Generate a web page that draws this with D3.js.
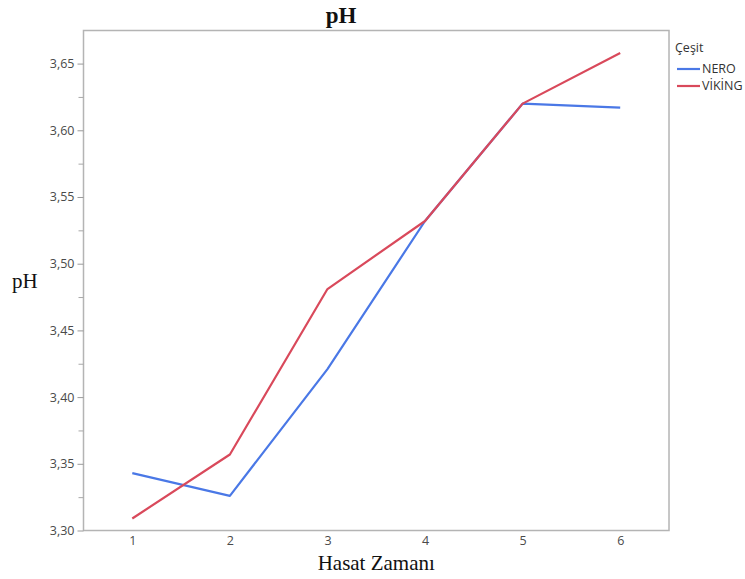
<!DOCTYPE html>
<html>
<head>
<meta charset="utf-8">
<script src="https://cdn.jsdelivr.net/npm/d3@7"></script>
<style>
  html, body { margin: 0; padding: 0; background: #fff; }
  svg { display: block; }
</style>
</head>
<body>
<svg id="chart" width="745" height="579"></svg>
<script>
// Harvest times (x) and mean pH per cultivar
const harvestTimes = [1, 2, 3, 4, 5, 6];
const neroPH   = [3.343, 3.326, 3.421, 3.532, 3.620, 3.617];
const vikingPH = [3.309, 3.357, 3.481, 3.532, 3.620, 3.658];
const seriesNames = ["NERO", "VİKİNG"];
const seriesColors = ["#4a78e6", "#d9495b"];
const yMajorTicks = [3.30, 3.35, 3.40, 3.45, 3.50, 3.55, 3.60, 3.65];
const yMinorTicks = [3.325, 3.375, 3.425, 3.475, 3.525, 3.575, 3.625];

const series = [
  { name: seriesNames[0], color: seriesColors[0], values: neroPH },
  { name: seriesNames[1], color: seriesColors[1], values: vikingPH }
];

const svg = d3.select("#chart");
const plot = { left: 83.5, right: 669, top: 30.5, bottom: 530.5 };

const x = d3.scaleLinear().domain([0.5, 6.5]).range([plot.left, plot.right]);
const y = d3.scaleLinear().domain([3.30, 3.6748]).range([plot.bottom, plot.top]);

const tickFont = "'Open Sans', 'Noto Sans', sans-serif";

// Frame around the plotting area
svg.append("rect")
  .attr("x", plot.left).attr("y", plot.top)
  .attr("width", plot.right - plot.left).attr("height", plot.bottom - plot.top)
  .attr("fill", "none").attr("stroke", "#b4b4b4").attr("stroke-width", 1.5);

// Y axis (major labelled ticks + minor ticks)
const yAxis = svg.append("g").attr("transform", `translate(${plot.left},0)`)
  .call(d3.axisLeft(y).tickValues(yMajorTicks).tickSize(6).tickPadding(3)
    .tickFormat(d => d3.format(".2f")(d).replace(".", ",")));
yAxis.select(".domain").remove();
yAxis.selectAll(".tick line").attr("stroke", "#9a9a9a");
yAxis.selectAll(".tick text").attr("fill", "#4a4a4a")
  .style("font-family", tickFont).style("font-size", "12.5px");

const yMinor = svg.append("g").attr("transform", `translate(${plot.left},0)`)
  .call(d3.axisLeft(y).tickValues(yMinorTicks).tickSize(5).tickFormat(""));
yMinor.select(".domain").remove();
yMinor.selectAll(".tick line").attr("stroke", "#a8a8a8");

// X axis
const xAxis = svg.append("g").attr("transform", `translate(0,${plot.bottom})`)
  .call(d3.axisBottom(x).tickValues(harvestTimes).tickSize(0).tickPadding(6)
    .tickFormat(d3.format("d")));
xAxis.select(".domain").remove();
xAxis.selectAll(".tick text").attr("fill", "#4a4a4a")
  .style("font-family", tickFont).style("font-size", "12.5px");

// Lines
const line = d3.line()
  .x((d, i) => x(harvestTimes[i]))
  .y(d => y(d));

svg.append("g").selectAll("path")
  .data(series)
  .join("path")
  .attr("d", d => line(d.values))
  .attr("fill", "none")
  .attr("stroke", d => d.color)
  .attr("stroke-width", 2.2)
  .attr("stroke-linejoin", "round");

// Titles
svg.append("text")
  .attr("x", 341).attr("y", 23)
  .attr("text-anchor", "middle")
  .style("font-family", "'Liberation Serif', 'Times New Roman', serif")
  .style("font-weight", "bold").style("font-size", "23px")
  .attr("fill", "#111")
  .text("pH");

svg.append("text")
  .attr("x", (plot.left + plot.right) / 2).attr("y", 570)
  .attr("text-anchor", "middle")
  .style("font-family", "'Liberation Serif', 'Times New Roman', serif")
  .style("font-size", "21px")
  .attr("fill", "#111")
  .text("Hasat Zamanı");

svg.append("text")
  .attr("x", 12).attr("y", 288)
  .style("font-family", "'Liberation Serif', 'Times New Roman', serif")
  .style("font-size", "21px")
  .attr("fill", "#111")
  .text("pH");

// Legend
const legend = svg.append("g").attr("transform", "translate(675,0)");
legend.append("text")
  .attr("x", 0).attr("y", 52)
  .style("font-family", tickFont).style("font-size", "12.5px")
  .attr("fill", "#333")
  .text("Çeşit");

const items = legend.selectAll("g.item")
  .data(series)
  .join("g")
  .attr("class", "item")
  .attr("transform", (d, i) => `translate(0,${69 + i * 17})`);
items.append("line")
  .attr("x1", 2).attr("x2", 25).attr("y1", 0).attr("y2", 0)
  .attr("stroke", d => d.color).attr("stroke-width", 2.2);
items.append("text")
  .attr("x", 27).attr("y", 0).attr("dy", "0.35em")
  .style("font-family", tickFont).style("font-size", "12.5px")
  .attr("fill", "#333")
  .text(d => d.name);
</script>
</body>
</html>
